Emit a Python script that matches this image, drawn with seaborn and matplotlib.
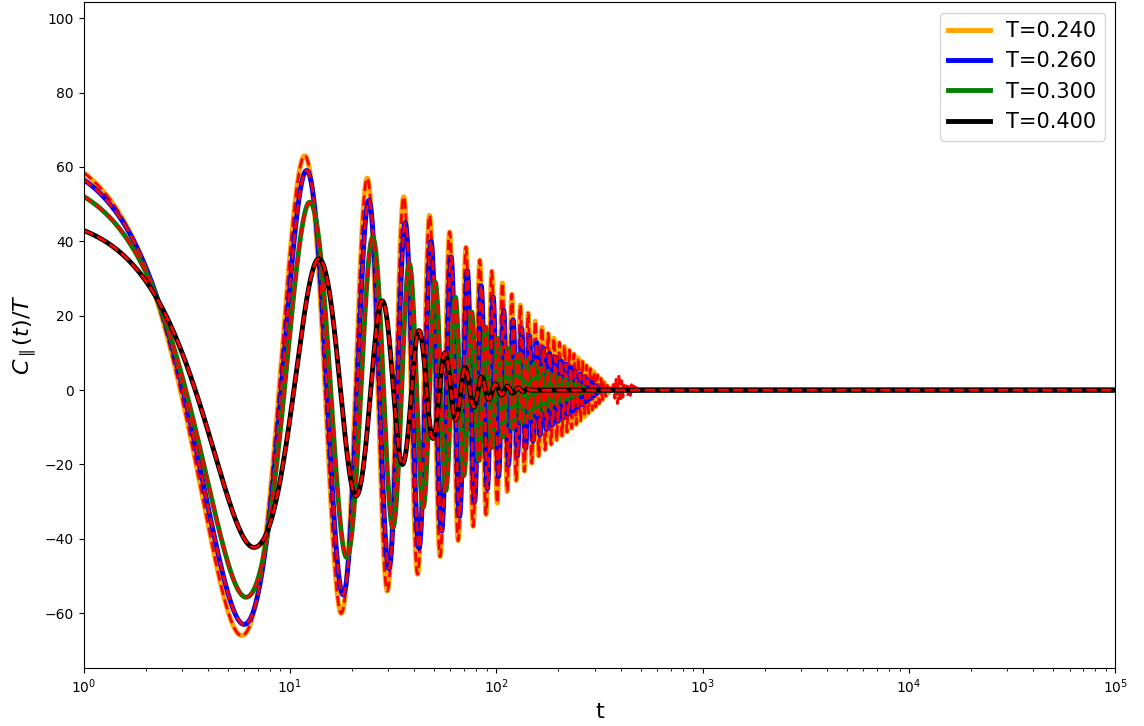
#Import Libraries
import numpy as np
import pandas as pd
import matplotlib
matplotlib.use('Agg')
import matplotlib.pyplot as plt
import seaborn as sns

#Temperatures and line colours
temps = ['T=0.240', 'T=0.260', 'T=0.300', 'T=0.400']
colors = ['orange', 'blue', 'green', 'black']

#Oscillation: time of first minimum and half period (linear t)
first_min = [5.84, 6.0, 6.13, 6.7]
half_period = [5.95, 6.04, 6.35, 7.1]

#Amplitude of the extrema (t=0 value is C(0)/T)
env_t_240 = [0, 5.9, 11.8, 17.8, 23.7, 29.7, 35.6, 47.5, 59.5, 71, 83, 95, 110, 130, 155, 180, 205, 235, 275, 310, 340, 360]
env_a_240 = [68, 66, 63, 60, 57, 54, 52, 47, 42.5, 38.5, 35, 32, 28, 23, 18.5, 15, 12.5, 10, 6.5, 4, 1.5, 0]
env_t_260 = [0, 6.0, 12.1, 18.1, 24.1, 30.2, 36.2, 48.3, 60.4, 72.5, 84.6, 96.7, 110, 130, 155, 180, 210, 250, 290, 320]
env_a_260 = [65.2, 63, 59, 55, 51, 48, 45, 40, 35.8, 32, 28, 25, 21, 17, 13, 10, 7.5, 4.5, 2, 0]
env_t_300 = [0, 6.13, 12.5, 18.8, 25.2, 31.5, 37.9, 50.6, 63.3, 76, 88.7, 101, 115, 140, 170, 200, 240, 280]
env_a_300 = [59.5, 55.7, 50.5, 45, 41, 37, 34, 29, 25, 21, 17, 14, 11, 8, 5.5, 3.5, 1.5, 0]
env_t_400 = [0, 6.7, 13.8, 20.9, 28, 35.1, 42.2, 49.3, 56.4, 63.5, 71, 78, 85, 92, 100, 115, 130, 150]
env_a_400 = [47.8, 42.3, 35.3, 28.5, 24, 20, 16, 13, 10, 8, 6, 4.5, 3.5, 2.5, 1.5, 1, 0.5, 0]

#Extra wiggle of the fit (red dashes) past the end of the T=0.240 data
fit_tail_t = [340, 360, 390, 420, 450, 500]
fit_tail_a = [1.5, 0.5, 4, 1, 1.5, 0]

envelopes = [(env_t_240, env_a_240), (env_t_260, env_a_260),
             (env_t_300, env_a_300), (env_t_400, env_a_400)]

t = np.geomspace(1, 1e5, 30000)


def curve(t, t1, hp, env_t, env_a):
    #extrema times/values, drawn as half-cosines between neighbouring extrema
    n = int((env_t[-1] - t1) / hp) + 2
    te = np.concatenate([[0.0], t1 + hp * np.arange(n)])
    amp = np.interp(te, env_t, env_a)
    ve = amp * np.where(np.arange(len(te)) % 2 == 0, 1.0, -1.0)
    idx = np.clip(np.searchsorted(te, t) - 1, 0, len(te) - 2)
    frac = np.clip((t - te[idx]) / (te[idx + 1] - te[idx]), 0, 1)
    y = ve[idx] + (ve[idx + 1] - ve[idx]) * (1 - np.cos(np.pi * frac)) / 2
    y[t > te[-1]] = 0.0
    return y


fig, ax = plt.subplots(figsize=(11.44, 7.26), dpi=100)

for i, (lab, col) in enumerate(zip(temps, colors)):
    et, ea = envelopes[i]
    y = curve(t, first_min[i], half_period[i], et, ea)
    df = pd.DataFrame({'t': t, 'C': y})
    sns.lineplot(data=df, x='t', y='C', ax=ax, color=col, lw=3.5, label=lab,
                 estimator=None, sort=False)
    #fitted curve (red dashes)
    if i == 0:
        ft = list(et[:-2]) + fit_tail_t
        fa = list(ea[:-2]) + fit_tail_a
        yf = curve(t, first_min[i], half_period[i], ft, fa)
    else:
        yf = y
    dff = pd.DataFrame({'t': t, 'C': yf})
    sns.lineplot(data=dff, x='t', y='C', ax=ax, color='red', lw=2, ls='--',
                 estimator=None, sort=False, legend=False)

ax.set_xscale('log')
ax.set_xlim(1, 1e5)
ax.set_ylim(-74.7, 104.3)
ax.set_xlabel('t', fontsize=16)
ax.set_ylabel(r'$C_{\parallel}(t)/T$', fontsize=16)
ax.legend(loc='upper right', fontsize=15)

plt.subplots_adjust(left=0.073, right=0.975, top=0.997, bottom=0.08)
plt.savefig('out.png', dpi=100)
